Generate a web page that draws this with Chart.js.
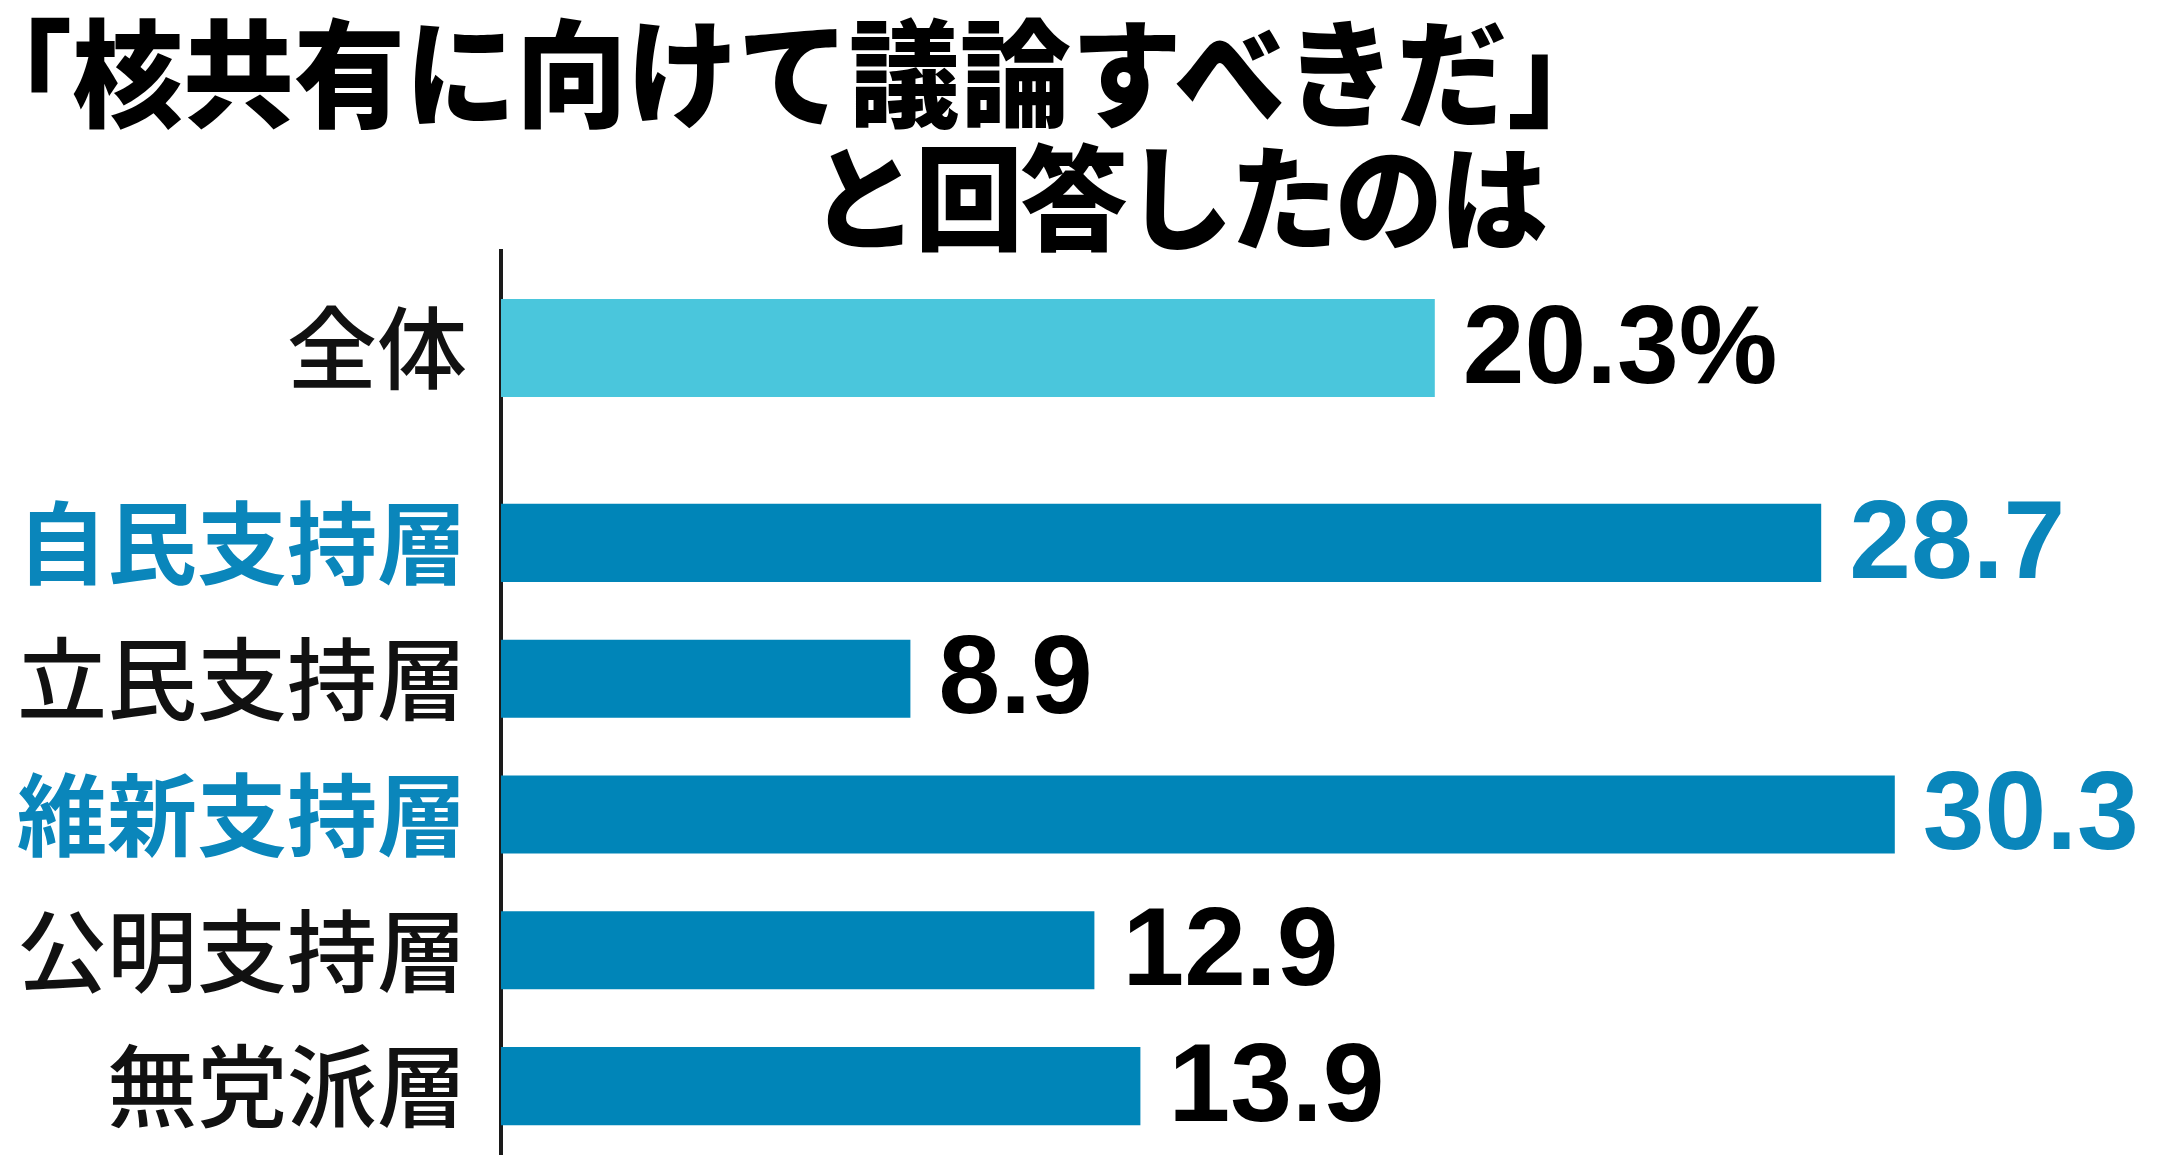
<!DOCTYPE html>
<html lang="ja">
<head>
<meta charset="utf-8">
<script src="https://cdn.jsdelivr.net/npm/chart.js@4.4.1/dist/chart.umd.min.js"></script>
<style>
  html, body { margin: 0; padding: 0; background: #fff; }
  #wrap { position: relative; width: 2160px; height: 1158px; overflow: hidden; }
  #chart-box { position: absolute; left: 0; top: 0; width: 2160px; height: 1158px; }
  .title {
    position: absolute;
    font-family: "Noto Sans CJK JP", sans-serif;
    font-weight: 900;
    font-size: 108px;
    line-height: 1;
    color: #000;
    white-space: nowrap;
    transform: scaleY(1.05);
  }
  #title1 { left: -39px; top: 12px; font-size: 111px; }
  #title2 { left: 810px; top: 138px; letter-spacing: -3px; }
</style>
</head>
<body>
<div id="wrap">
  <div id="chart-box"><canvas id="chart"></canvas></div>
  <div class="title" id="title1">「核共有に向けて議論すべきだ」</div>
  <div class="title" id="title2">と回答したのは</div>
</div>
<script>
const totalLabels = ['全体'];
const totalValues = [20.3];
const partyLabels = ['自民支持層', '立民支持層', '維新支持層', '公明支持層', '無党派層'];
const partyValues = [28.7, 8.9, 30.3, 12.9, 13.9];
const highlighted = ['自民支持層', '維新支持層'];

const BLUE = '#0085b8';
const LIGHT = '#4ac6dc';
const TEXT_BLUE = '#0a86bb';

const AXIS_W = 501;

// fixed axis width, and no label overhang padding so the stacked axes fill the area
function fitAxis(scale) {
    scale.width = AXIS_W;
    scale.paddingTop = 0;
    scale.paddingBottom = 0;
}

function tickColor(ctx) {
    const label = ctx.tick && ctx.tick.label;
    return highlighted.includes(label) ? TEXT_BLUE : '#111';
}

function tickFont(ctx) {
    const label = ctx.tick && ctx.tick.label;
    return {
        family: '"Noto Sans CJK JP", sans-serif',
        size: 90,
        weight: highlighted.includes(label) ? 'bold' : '500',
    };
}

const valueLabels = {
    id: 'valueLabels',
    afterDatasetsDraw(chart) {
        const { ctx } = chart;
        ctx.save();
        ctx.font = 'bold 111px "Liberation Sans", Arial, sans-serif';
        ctx.textAlign = 'left';
        ctx.textBaseline = 'middle';
        chart.data.datasets.forEach((ds, di) => {
            const meta = chart.getDatasetMeta(di);
            const labels = chart.scales[ds.yAxisID].getLabels();
            meta.data.forEach((bar, i) => {
                let text = ds.data[i].toFixed(1);
                if (di === 0) {
                    text += '%';
                }
                ctx.fillStyle = highlighted.includes(labels[i]) ? TEXT_BLUE : '#000';
                ctx.fillText(text, bar.x + 28, bar.y + 4);
            });
        });
        ctx.restore();
    },
};

const yBase = {
    type: 'category',
    position: 'left',
    stack: 'left',
    offset: true,
    afterFit: fitAxis,
    grid: { display: false, drawTicks: false },
    border: { display: true, color: '#1a1a1a', width: 4 },
    ticks: {
        autoSkip: false,
        padding: 34,
        color: tickColor,
        font: tickFont,
    },
};

new Chart(document.getElementById('chart'), {
    type: 'bar',
    data: {
        datasets: [
            {
                label: '全体',
                data: totalValues,
                yAxisID: 'yTotal',
                backgroundColor: LIGHT,
                categoryPercentage: 1,
                barPercentage: 0.505,
                grouped: false,
            },
            {
                label: '支持政党別',
                data: partyValues,
                yAxisID: 'yParty',
                backgroundColor: BLUE,
                categoryPercentage: 1,
                barPercentage: 0.575,
                grouped: false,
            },
        ],
    },
    options: {
        indexAxis: 'y',
        responsive: true,
        maintainAspectRatio: false,
        animation: false,
        layout: { padding: { top: 251, bottom: 4, left: 0, right: 49 } },
        scales: {
            x: {
                type: 'linear',
                min: 0,
                max: 35,
                display: false,
            },
            yParty: { ...yBase, labels: partyLabels, stackWeight: 679, weight: 1 },
            yGap: { ...yBase, labels: [''], stackWeight: 30, weight: 2, ticks: { display: false } },
            yTotal: { ...yBase, labels: totalLabels, stackWeight: 194, weight: 3 },
        },
        plugins: {
            legend: { display: false },
            tooltip: { enabled: false },
            title: { display: false },
        },
    },
    plugins: [valueLabels],
});
</script>
</body>
</html>
